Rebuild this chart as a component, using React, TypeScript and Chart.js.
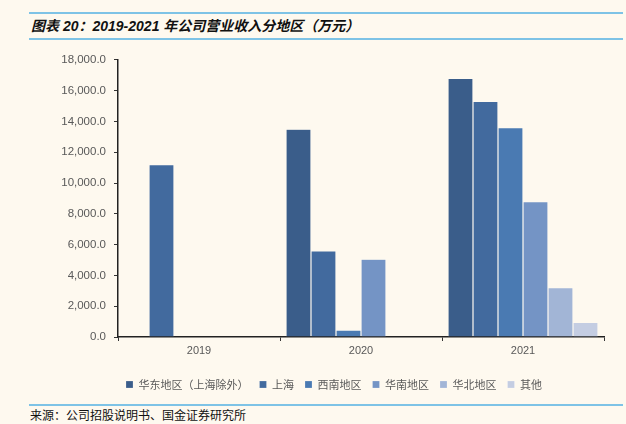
import React, { useEffect, useRef } from "react";
import { Chart, registerables } from "chart.js";

Chart.register(...registerables);

const categories = ["2019", "2020", "2021"];
const seriesNames = ["华东地区（上海除外）", "上海", "西南地区", "华南地区", "华北地区", "其他"];
const eastChina = [null, 13500, 16800];
const shanghai = [11200, 5600, 15300];
const southwest = [null, 450, 13600];
const southChina = [null, 5050, 8800];
const northChina = [null, null, 3200];
const others = [null, null, 950];
const seriesColors = ["#3a5d8a", "#426a9e", "#4a7ab2", "#7494c5", "#a2b5d6", "#c4cde2"];
const yTicks = [0, 2000, 4000, 6000, 8000, 10000, 12000, 14000, 16000, 18000];

const BG = "#fef9ef";
const LINE = "#7ec3e6";

const legendShift = {
  id: "legendShift",
  afterLayout(chart: any) {
    const lg = chart.legend;
    if (lg) {
      lg.left += 64;
    }
  },
};

export default function App() {
  const ref = useRef<HTMLCanvasElement>(null);
  useEffect(() => {
    document.body.style.margin = "0";
    const values = [eastChina, shanghai, southwest, southChina, northChina, others];
    const chart = new Chart(ref.current!, {
      type: "bar",
      data: {
        labels: categories,
        datasets: seriesNames.map((name, i) => ({
          label: name,
          data: values[i] as any,
          backgroundColor: seriesColors[i],
          borderColor: "rgba(255,255,255,0.35)",
          borderWidth: 0.6,
          barPercentage: 1,
          categoryPercentage: 0.926,
        })),
      },
      plugins: [legendShift],
      options: {
        animation: false,
        responsive: false,
        maintainAspectRatio: false,
        layout: { padding: { left: 0, right: 22, top: 13, bottom: 0 } },
        plugins: {
          tooltip: { enabled: false },
          legend: {
            position: "bottom",
            labels: {
              boxWidth: 7,
              boxHeight: 7,
              padding: 11,
              color: "#595959",
              font: { family: "'Noto Sans CJK SC', sans-serif", size: 11 },
            },
          },
        },
        scales: {
          x: {
            grid: {
              display: true,
              drawOnChartArea: false,
              drawTicks: true,
              tickLength: 4,
              color: "#333",
              offset: true,
            },
            border: { color: "#222", width: 1.5 },
            ticks: {
              color: "#595959",
              padding: 3,
              font: { family: "'Liberation Sans', Arial, sans-serif", size: 11 },
            },
            afterFit: (s: any) => {
              s.height = 31;
            },
          },
          y: {
            min: 0,
            max: 18000,
            afterBuildTicks: (s: any) => {
              s.ticks = yTicks.map((v) => ({ value: v }));
            },
            grid: {
              display: true,
              drawOnChartArea: false,
              drawTicks: true,
              tickLength: 4,
              color: "#333",
            },
            border: { color: "#222", width: 1.5 },
            ticks: {
              color: "#595959",
              padding: 8,
              font: { family: "'Liberation Sans', Arial, sans-serif", size: 11.5 },
              callback: (v: any) =>
                Number(v).toLocaleString("en-US", { minimumFractionDigits: 1, maximumFractionDigits: 1 }),
            },
            afterFit: (s: any) => {
              s.width = 118;
            },
          },
        },
      },
    });
    return () => chart.destroy();
  }, []);

  return (
    <div style={{ position: "fixed", left: 0, top: 0, width: 626, height: 424, background: BG, overflow: "hidden" }}>
      <div style={{ position: "absolute", left: 29, top: 12, width: 594, height: 2, background: LINE }} />
      <div
        style={{
          position: "absolute",
          left: 31,
          top: 16,
          fontFamily: "'Liberation Sans', 'Noto Sans CJK SC', sans-serif",
          fontWeight: "bold",
          fontStyle: "italic",
          fontSize: 14,
          color: "#111",
          whiteSpace: "nowrap",
          lineHeight: "20px",
        }}
      >
        图表 20：2019-2021 年公司营业收入分地区（万元）
      </div>
      <div style={{ position: "absolute", left: 29, top: 38, width: 594, height: 2, background: LINE }} />
      <canvas ref={ref} width={626} height={355} style={{ position: "absolute", left: 0, top: 45, width: 626, height: 355 }} />
      <div style={{ position: "absolute", left: 29, top: 404, width: 594, height: 2, background: LINE }} />
      <div
        style={{
          position: "absolute",
          left: 30,
          top: 407,
          fontFamily: "'Noto Sans CJK SC', sans-serif",
          fontSize: 12,
          color: "#111",
          whiteSpace: "nowrap",
          lineHeight: "16px",
        }}
      >
        来源：公司招股说明书、国金证券研究所
      </div>
    </div>
  );
}
